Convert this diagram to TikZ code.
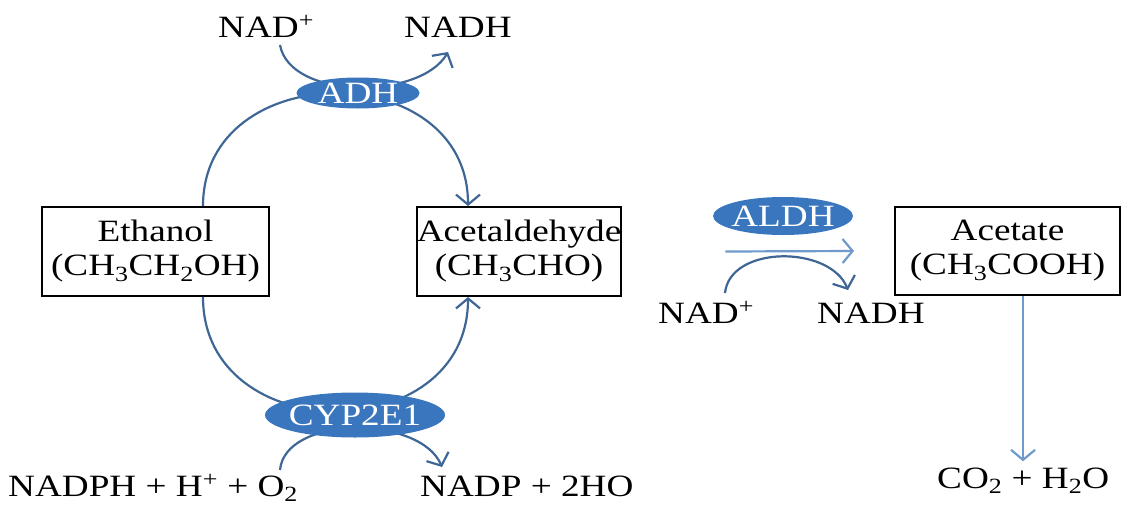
\documentclass[tikz,border=0pt]{standalone}
\usepackage{fontspec}
\setmainfont{Liberation Serif}[FakeStretch=1.2]
\usetikzlibrary{shapes.geometric,arrows.meta,calc}
\definecolor{curv}{HTML}{3F6796}
\definecolor{strt}{HTML}{6F9ACB}
\definecolor{enzf}{HTML}{3A76BD}
\begin{document}
\begin{tikzpicture}[x=1pt,y=-1pt,
  every node/.style={font=\fontsize{31}{34}\selectfont},
  lbl/.style={inner sep=0pt,anchor=base west},
  box/.style={draw=black,line width=2pt,align=center,inner sep=0pt},
  enz/.style={ellipse,fill=enzf,draw=none,inner sep=0pt},
  etxt/.style={text=white,inner sep=0pt},
  tip/.style={-{Straight Barb[length=10pt,width=24pt,line width=2.2pt]}},
  carr/.style={draw=curv,line width=2.2pt},
  sarr/.style={draw=strt,line width=2.2pt}]
\useasboundingbox (0,0) rectangle (1139,506);
% boxes
\node[box,minimum width=227pt,minimum height=89pt] (eth) at (155.5,251.5) {Ethanol\\(CH\textsubscript{3}CH\textsubscript{2}OH)};
\node[box,minimum width=182pt,minimum height=89pt] (acd) at (519,251.5) {Acetaldehyde\\(CH\textsubscript{3}CHO)};
\node[box,minimum width=225pt,minimum height=88pt] (act) at (1007.5,251) {Acetate\\(CH\textsubscript{3}COOH)};
% labels
\node[lbl] (nad1) at (218,37) {NAD\textsuperscript{+}};
\node[lbl] (nadh1) at (404,37) {NADH};
\node[lbl] (nad2) at (658,323) {NAD\textsuperscript{+}};
\node[lbl] (nadh2) at (817,323) {NADH};
\node[lbl] (nadph) at (8,496) {NADPH + H\textsuperscript{+} + O\textsubscript{2}};
\node[lbl] (nadp) at (420,496) {NADP + 2HO};
\node[lbl] (co2) at (937,488) {CO\textsubscript{2} + H\textsubscript{2}O};
% free ends
\coordinate (a1) at (280,45);
\coordinate (a2) at (448,52);
\coordinate (b1) at (725,293);
\coordinate (b2) at (848,290);
\coordinate (c1) at (280,470);
\coordinate (c2) at (442,467);
% cycle curves
\draw[carr,tip] ([xshift=47.5pt]eth.north) to[out=90,in=90,looseness=1.45] ([xshift=-51pt]acd.north);
\draw[carr,tip] ([xshift=47.5pt]eth.south) to[out=-90,in=-90,looseness=1.47] ([xshift=-51pt]acd.south);
% cofactor curves
\draw[carr,tip] (a1) .. controls (290,100) and (420,100) .. (a2);
\draw[carr,tip] (c1) .. controls (285,415) and (420,415) .. (c2);
\draw[carr,tip] (b1) .. controls (730,245) and (830,245) .. (b2);
% straight arrows
\draw[sarr,tip] ([xshift=103pt]acd.east) -- ([xshift=-40pt]act.west);
\draw[sarr,tip] ([xshift=15.5pt]act.south) -- ([xshift=15.5pt,yshift=6pt]act.south |- co2.north);
% enzymes
\node[enz,minimum width=123pt,minimum height=31pt,label={[etxt]center:ADH}] (adh) at (358,93) {};
\node[enz,minimum width=140pt,minimum height=38pt,label={[etxt]center:ALDH}] (aldh) at (783,216) {};
\node[enz,minimum width=180pt,minimum height=45pt,label={[etxt]center:CYP2E1}] (cyp) at (355,415) {};
\end{tikzpicture}
\end{document}
